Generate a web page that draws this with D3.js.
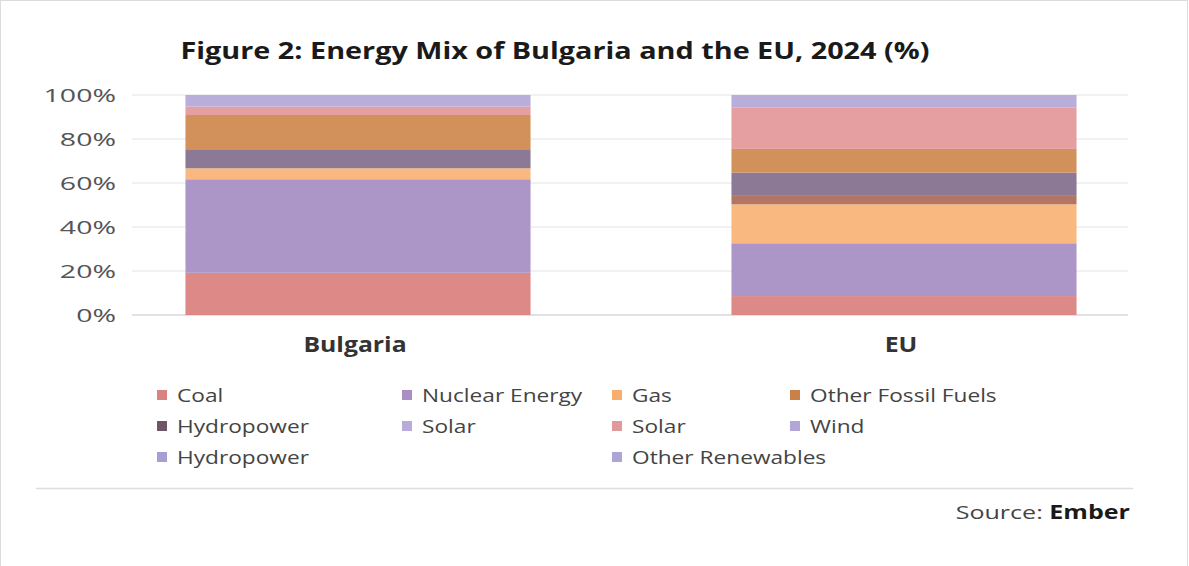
<!DOCTYPE html>
<html>
<head>
<meta charset="utf-8">
<script src="https://cdn.jsdelivr.net/npm/d3@7/dist/d3.min.js"></script>
<style>
  html, body { margin: 0; padding: 0; background: #fff; }
  svg { display: block; font-family: "Open Sans", "Noto Sans", sans-serif; }
</style>
</head>
<body>
<svg id="chart" width="1189" height="566"></svg>
<script>
// Countries / regions on the x axis
const regions = ["Bulgaria", "EU"];

// Stacked share of each source (%), bottom to top
const seriesKeys   = ["coal", "nuclear", "gas", "fossilMix", "hydro", "otherFossil", "solar", "wind"];
const coal        = [19.2,  8.6];
const nuclear     = [42.5, 24.0];
const gas         = [ 5.0, 17.7];
const fossilMix   = [ 0.0,  4.2];
const hydro       = [ 8.3, 10.2];
const otherFossil = [15.9, 10.8];
const solar       = [ 3.8, 18.9];
const wind        = [ 5.3,  5.6];
const seriesValues = [coal, nuclear, gas, fossilMix, hydro, otherFossil, solar, wind];
const seriesColors = ["#da8381", "#a890c4", "#fab47a", "#b06f5c", "#85728f", "#d08a52", "#e59a9b", "#b5a9d8"];

// Axis ticks
const yTicks = [0, 20, 40, 60, 80, 100];

// Legend entries, laid out in a 4-column grid (null = empty cell)
const legendNames  = ["Coal", "Nuclear Energy", "Gas", "Other Fossil Fuels",
                      "Hydropower", "Solar", "Solar", "Wind",
                      "Hydropower", null, "Other Renewables", null];
const legendColors = ["#d98282", "#a98fc4", "#f7ad6e", "#c98148",
                      "#6f5568", "#b9abd9", "#e1999a", "#b3a5d6",
                      "#a69fd3", null, "#ada5d9", null];

const svg = d3.select("#chart");

// Text in this figure is set wide: stretch a text horizontally about its anchor
function placeWide(sel, px, py, sx) {
  sel.attr("x", 0).attr("y", 0)
     .attr("transform", `translate(${px},${py}) scale(${sx},1)`);
  return sel;
}

// Frame
svg.append("rect")
  .attr("x", 0.5).attr("y", 0.5).attr("width", 1187).attr("height", 570)
  .attr("fill", "#fff").attr("stroke", "#dcdcdc");

// Title
placeWide(svg.append("text"), 555, 59, 1.2)
  .attr("text-anchor", "middle")
  .attr("font-size", 24).attr("font-weight", 700).attr("fill", "#1a1a1a")
  .text("Figure 2: Energy Mix of Bulgaria and the EU, 2024 (%)");

// Scales
const x = d3.scaleBand().domain(regions).range([85, 1177])
  .paddingInner(0.368).paddingOuter(0.184);
const y = d3.scaleLinear().domain([0, 100]).range([315, 95]);

// Gridlines
svg.append("g")
  .selectAll("line").data(yTicks).join("line")
  .attr("x1", 132).attr("x2", 1128)
  .attr("y1", d => y(d)).attr("y2", d => y(d))
  .attr("stroke", d => d === 0 ? "#c4c4c4" : "#e3e3e3")
  .attr("stroke-width", 1.2);

// Y axis labels
const ySx = 1.5;
const yAxis = svg.append("g")
  .attr("transform", "translate(132,0)")
  .call(d3.axisLeft(y).tickValues(yTicks).tickFormat(d => d + "%").tickSize(0).tickPadding(16));
yAxis.select(".domain").remove();
yAxis.selectAll("text")
  .attr("font-size", 19).attr("fill", "#555").attr("font-family", "'Open Sans', sans-serif")
  .attr("x", function () { return +d3.select(this).attr("x") / ySx; })
  .attr("transform", `scale(${ySx},1)`);

// Stacked bars
const rows = regions.map((r, i) => {
  const o = { region: r };
  seriesKeys.forEach((k, j) => { o[k] = seriesValues[j][i]; });
  return o;
});
const stacked = d3.stack().keys(seriesKeys)(rows);

svg.append("g")
  .selectAll("g").data(stacked).join("g")
  .attr("fill", (d, i) => seriesColors[i])
  .selectAll("rect").data(d => d).join("rect")
  .attr("x", d => x(d.data.region))
  .attr("width", x.bandwidth())
  .attr("y", d => y(d[1]))
  .attr("height", d => y(d[0]) - y(d[1]))
  .attr("fill-opacity", 0.95);

// X axis labels
const xAxis = svg.append("g")
  .attr("transform", "translate(-3,315)")
  .call(d3.axisBottom(x).tickSize(0).tickPadding(22));
xAxis.select(".domain").remove();
xAxis.selectAll("text")
  .attr("font-size", 21).attr("font-weight", 700).attr("fill", "#333")
  .attr("font-family", "'Open Sans', sans-serif")
  .attr("transform", "scale(1.18,1)");

// Legend
const legendCols = [157, 402, 612, 790];
const legendRowY = [395, 426, 457];
const legendItems = legendNames
  .map((n, i) => ({ name: n, color: legendColors[i], col: i % 4, row: Math.floor(i / 4) }))
  .filter(d => d.name !== null);

const lg = svg.append("g").selectAll("g").data(legendItems).join("g")
  .attr("transform", d => `translate(${legendCols[d.col]},${legendRowY[d.row]})`);
lg.append("rect")
  .attr("x", 0).attr("y", -5).attr("width", 10).attr("height", 10)
  .attr("fill", d => d.color);
lg.append("text")
  .attr("transform", "translate(20,6.5) scale(1.26,1)")
  .attr("font-size", 18).attr("fill", "#444")
  .text(d => d.name);

// Separator
svg.append("line")
  .attr("x1", 36).attr("x2", 1133).attr("y1", 488.5).attr("y2", 488.5)
  .attr("stroke", "#dedede").attr("stroke-width", 1.5);

// Source note
const src = placeWide(svg.append("text"), 1130, 519, 1.32)
  .attr("text-anchor", "end")
  .attr("font-size", 19).attr("fill", "#444");
src.append("tspan").text("Source: ");
src.append("tspan").attr("font-weight", 700).attr("fill", "#1a1a1a").text("Ember");
</script>
</body>
</html>
